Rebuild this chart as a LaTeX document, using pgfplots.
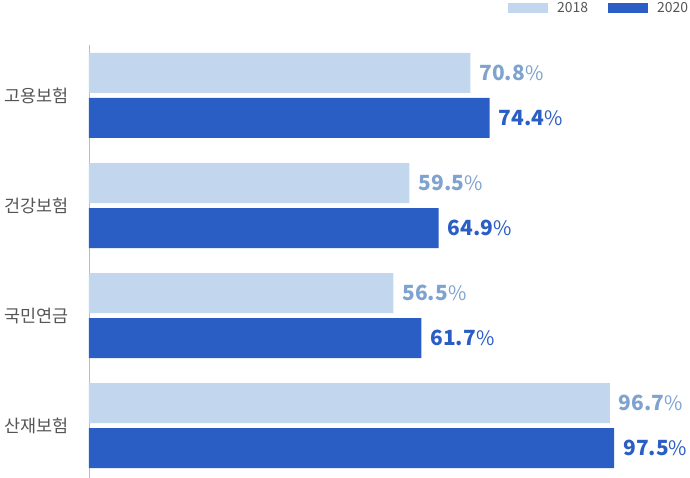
\documentclass[border=0pt]{standalone}
\usepackage{fontspec}
\setmainfont{Noto Sans CJK KR}
\usepackage{pgfplots}
\pgfplotsset{compat=1.18}
\definecolor{c18}{HTML}{C2D6EE}
\definecolor{c20}{HTML}{2B5EC5}
\definecolor{l18}{HTML}{7FA3CF}
\definecolor{axgray}{HTML}{BBBBBB}
\definecolor{txtgray}{HTML}{555555}
\begin{document}
\begin{tikzpicture}
\useasboundingbox (-89bp,0bp) rectangle (601bp,478bp);
\begin{axis}[
  at={(0,0)}, anchor=south west,
  scale only axis, width=601bp, height=433bp,
  xmin=0, xmax=111.6, ymin=-0.459, ymax=3.477, y dir=reverse,
  axis x line=none, axis y line*=left,
  axis line style={axgray, line width=0.8pt},
  ytick={0,1,2,3}, yticklabels={고용보험,건강보험,국민연금,산재보험},
  major tick length=0pt,
  yticklabel style={font=\fontsize{17.5}{17.5}\selectfont, text=txtgray, inner sep=0pt, xshift=-20bp},
  xbar, bar width=0.3636,
  clip=false,
  point meta=x,
  /pgf/number format/assume math mode=true,
  nodes near coords={\bfseries\pgfmathprintnumber[fixed,precision=1,fixed zerofill,assume math mode=true]{\pgfplotspointmeta}{\mdseries\fontsize{20}{20}\selectfont\%}},
  every node near coord/.append style={anchor=west, inner sep=0pt, xshift=9bp, font=\fontsize{21}{21}\selectfont},
  legend style={at={(1.012,1.099)}, anchor=north east, draw=none, fill=none, legend columns=2,
    font=\fontsize{14}{14}\selectfont, text=txtgray, inner sep=0pt,
    nodes={inner xsep=9bp, inner ysep=0pt},
    /tikz/every even column/.append style={column sep=11bp}},
  legend image code/.code={\fill[#1, draw=none] (0bp,-5bp) rectangle (40bp,5bp);},
]
\addplot[fill=c18, draw=none, bar shift=-0.2045, every node near coord/.append style={text=l18}]
  coordinates {(70.8,0) (59.5,1) (56.5,2) (96.7,3)};
\addplot[fill=c20, draw=none, bar shift=0.2045, every node near coord/.append style={text=c20}]
  coordinates {(74.4,0) (64.9,1) (61.7,2) (97.5,3)};
\legend{2018,2020}
\end{axis}
\end{tikzpicture}
\end{document}
